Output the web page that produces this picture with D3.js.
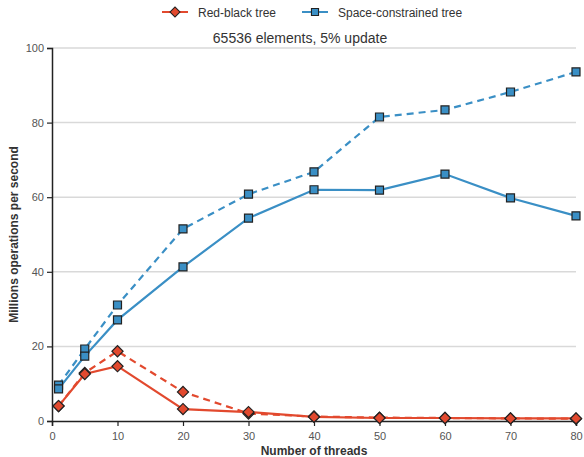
<!DOCTYPE html>
<html>
<head>
<meta charset="utf-8">
<script src="https://d3js.org/d3.v7.min.js"></script>
<style>
  body { margin: 0; background: #fff; }
  svg { font-family: 'Liberation Sans', Arial, sans-serif; }
</style>
</head>
<body>
<div id="chart"></div>
<script>
// Threads on the x axis
const threads = [1, 5, 10, 20, 30, 40, 50, 60, 70, 80]

// Millions of operations per second
const redBlackSolid = [4.0, 12.6, 14.7, 3.2, 2.4, 1.1, 0.8, 0.8, 0.7, 0.7]
const redBlackDashed = [4.0, 12.9, 18.7, 7.8, 2.0, 1.2, 0.9, 0.8, 0.7, 0.6]
const spaceSolid = [8.6, 17.4, 27.1, 41.3, 54.4, 62.0, 61.9, 66.2, 59.8, 55.0]
const spaceDashed = [9.6, 19.3, 31.1, 51.5, 60.8, 66.8, 81.5, 83.4, 88.2, 93.6]

const xTicks = [0, 10, 20, 30, 40, 50, 60, 70, 80]
const yTicks = [0, 20, 40, 60, 80, 100]
const gridTicks = [20, 40, 60, 80, 100]

const red = '#e2492e'
const blue = '#3a8fc5'

const width = 584
const height = 457
const margin = { top: 48, right: 8, bottom: 36, left: 52 }

const x = d3.scaleLinear().domain([0, 80]).range([margin.left, width - margin.right])
const y = d3.scaleLinear().domain([0, 100]).range([height - margin.bottom, margin.top])

const svg = d3.select('#chart').append('svg')
  .attr('width', width)
  .attr('height', height)

// gridlines
svg.append('g')
  .selectAll('line')
  .data(gridTicks)
  .join('line')
  .attr('x1', x(0))
  .attr('x2', x(80))
  .attr('y1', d => y(d))
  .attr('y2', d => y(d))
  .style('stroke', '#d9d9d9')
  .style('stroke-width', 1.5)

// title
svg.append('text')
  .attr('x', 300)
  .attr('y', 43)
  .attr('text-anchor', 'middle')
  .attr('font-size', 14)
  .attr('fill', '#333')
  .text('65536 elements, 5% update')

// axes
const xAxis = svg.append('g')
  .attr('transform', `translate(0,${y(0)})`)
  .call(d3.axisBottom(x).tickValues(xTicks).tickSizeOuter(0).tickSize(5))
const yAxis = svg.append('g')
  .attr('transform', `translate(${x(0)},0)`)
  .call(d3.axisLeft(y).tickValues(yTicks).tickSizeOuter(0).tickSize(5))

for (const ax of [xAxis, yAxis]) {
  ax.select('.domain').attr('stroke', '#222').attr('stroke-width', 1.5)
  ax.selectAll('.tick line').attr('stroke', '#222').attr('stroke-width', 1.2)
  ax.selectAll('.tick text')
    .attr('fill', '#555')
    .attr('font-size', 11)
    .attr('font-family', "'Liberation Sans', Arial, sans-serif")
}
xAxis.selectAll('.tick text').attr('dy', '1.0em')

svg.append('text')
  .attr('x', x(40))
  .attr('y', 455)
  .attr('text-anchor', 'middle')
  .attr('font-size', 12)
  .attr('font-weight', 'bold')
  .attr('fill', '#333')
  .text('Number of threads')

svg.append('text')
  .attr('transform', `translate(18,${y(50)}) rotate(-90)`)
  .attr('text-anchor', 'middle')
  .attr('font-size', 12)
  .attr('font-weight', 'bold')
  .attr('fill', '#333')
  .text('Millions operations per second')

// diamonds are squares turned by 45 degrees
const series = [
  { values: spaceDashed, color: blue, dash: '7,5', size: 64, rot: 0 },
  { values: spaceSolid, color: blue, dash: null, size: 64, rot: 0 },
  { values: redBlackDashed, color: red, dash: '7,5', size: 62, rot: 45 },
  { values: redBlackSolid, color: red, dash: null, size: 62, rot: 45 }
]

const line = d3.line()
  .x(d => x(d[0]))
  .y(d => y(d[1]))

const plot = svg.append('g')

series.forEach(s => {
  const pts = threads.map((t, i) => [t, s.values[i]])
  plot.append('path')
    .datum(pts)
    .attr('d', line)
    .attr('fill', 'none')
    .attr('stroke', s.color)
    .attr('stroke-width', 2.2)
    .attr('stroke-dasharray', s.dash)
})

series.forEach(s => {
  const pts = threads.map((t, i) => [t, s.values[i]])
  plot.append('g')
    .selectAll('path')
    .data(pts)
    .join('path')
    .attr('transform', d => `translate(${x(d[0])},${y(d[1])}) rotate(${s.rot})`)
    .attr('d', d3.symbol().type(d3.symbolSquare).size(s.size))
    .attr('fill', s.color)
    .attr('stroke', '#222')
    .attr('stroke-width', 1.2)
})

// legend
const legendItems = [
  { label: 'Red-black tree', color: red, size: 50, rot: 45, x0: 162 },
  { label: 'Space-constrained tree', color: blue, size: 50, rot: 0, x0: 302 }
]
const legend = svg.append('g').attr('transform', 'translate(0,12)')
legendItems.forEach(d => {
  const g = legend.append('g').attr('transform', `translate(${d.x0},0)`)
  g.append('line')
    .attr('x1', 0).attr('x2', 26)
    .attr('stroke', d.color).attr('stroke-width', 2)
  g.append('path')
    .attr('transform', `translate(13,0) rotate(${d.rot})`)
    .attr('d', d3.symbol().type(d3.symbolSquare).size(d.size))
    .attr('fill', d.color)
    .attr('stroke', '#222')
    .attr('stroke-width', 1.1)
  g.append('text')
    .attr('x', 36)
    .attr('y', 4.5)
    .attr('font-size', 12)
    .attr('fill', '#333')
    .text(d.label)
})
</script>
</body>
</html>
